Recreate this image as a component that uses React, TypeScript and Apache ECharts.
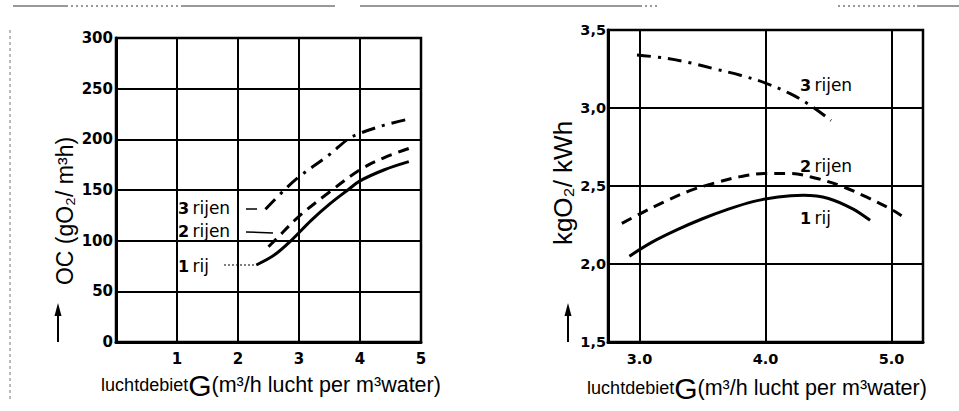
import React, { useEffect, useRef } from "react";
import * as echarts from "echarts";

// Left chart: OC (gO2/m3h) vs luchtdebiet G
const leftRij1: number[][] = [[2.3, 76], [2.6, 86], [2.87, 100], [3.2, 120], [3.5, 136], [3.8, 150], [4.0, 159], [4.4, 170], [4.8, 178]];
const leftRijen2: number[][] = [[2.5, 94], [2.6, 100], [3.0, 124], [3.5, 148], [4.0, 170], [4.4, 182], [4.8, 191]];
const leftRijen3: number[][] = [[2.45, 131], [2.76, 150], [3.0, 163], [3.5, 185], [3.8, 200], [4.0, 206], [4.4, 214], [4.8, 220]];

// Right chart: kgO2/kWh vs luchtdebiet G
const rightRij1: number[][] = [[2.92, 2.05], [3.1, 2.14], [3.3, 2.22], [3.5, 2.29], [3.7, 2.35], [3.9, 2.4], [4.1, 2.43], [4.3, 2.44], [4.5, 2.42], [4.7, 2.35], [4.83, 2.28]];
const rightRijen2: number[][] = [[2.86, 2.26], [3.0, 2.32], [3.2, 2.4], [3.4, 2.47], [3.6, 2.52], [3.8, 2.56], [4.0, 2.58], [4.2, 2.58], [4.4, 2.55], [4.6, 2.5], [4.8, 2.43], [5.0, 2.35], [5.08, 2.31]];
const rightRijen3: number[][] = [[2.98, 3.34], [3.2, 3.32], [3.4, 3.29], [3.6, 3.25], [3.8, 3.21], [4.0, 3.16], [4.2, 3.09], [4.35, 3.02], [4.52, 2.92]];

const rightXGridValues = [3, 4, 5];

const FONT = "'Liberation Sans', Arial, Helvetica, sans-serif";
const WIDE = "'DejaVu Sans', 'Liberation Sans', sans-serif";

const mkLine = (name: string, data: number[][], idx: number, dash: any) => ({
  type: "line",
  name,
  xAxisIndex: idx,
  yAxisIndex: idx,
  data,
  smooth: 0.35,
  symbol: "none",
  showSymbol: false,
  silent: true,
  lineStyle: { color: "#000", width: 3, type: dash },
  z: 5,
});

export default function App() {
  const ref = useRef<HTMLDivElement>(null);
  useEffect(() => {
    document.body.style.margin = "0";
    const chart = echarts.init(ref.current!, null, { renderer: "svg" });
    const axisLine = { show: true, lineStyle: { color: "#000", width: 3 } };
    const split = { show: true, lineStyle: { color: "#000", width: 2 } };
    const tickLabelL = { color: "#000", fontFamily: WIDE, fontWeight: "bold", fontSize: 15 };
    const tickLabelR = { color: "#000", fontFamily: WIDE, fontWeight: "bold", fontSize: 14.5 };
    const xName = (cx: number, cy: number) => ({
      type: "text",
      x: cx,
      y: cy,
      style: {
        text: "{a|luchtdebiet}{b|G}{c|(m³/h lucht per m³water)}",
        textAlign: "center",
        textVerticalAlign: "middle",
        fill: "#000",
        rich: {
          a: { fontSize: 18, fontFamily: FONT, fill: "#000", lineHeight: 30 },
          b: { fontSize: 30, fontFamily: FONT, fill: "#000", lineHeight: 30 },
          c: { fontSize: 21.5, fontFamily: FONT, fill: "#000", lineHeight: 30 },
        },
      },
    });
    const label = (x: number, y: number, num: string, rest: string) => ({
      type: "text",
      x,
      y,
      style: {
        text: `{n|${num}} {r|${rest}}`,
        textVerticalAlign: "middle",
        rich: {
          n: { fontSize: 16, fontWeight: "bold", fontFamily: WIDE, fill: "#000" },
          r: { fontSize: 17, fontFamily: WIDE, fill: "#000" },
        },
      },
    });
    const arrow = (x: number) => [
      { type: "line", shape: { x1: x, y1: 342, x2: x, y2: 312 }, style: { stroke: "#000", lineWidth: 2 } },
      { type: "polygon", shape: { points: [[x, 303], [x - 3.5, 316], [x + 3.5, 316]] }, style: { fill: "#000" } },
    ];
    const topSegs = [[13, 66, 0], [66, 183, 1], [183, 335, 0], [360, 640, 0], [640, 660, 1], [838, 917, 1], [917, 959, 0]];
    chart.setOption({
      animation: false,
      backgroundColor: "#fff",
      grid: [
        { left: 116, top: 38, width: 305, height: 304, show: true, borderColor: "#000", borderWidth: 2.5, containLabel: false },
        { left: 608, top: 30, width: 315, height: 312, show: true, borderColor: "#000", borderWidth: 2.5, containLabel: false },
      ],
      xAxis: [
        {
          type: "value", gridIndex: 0, min: 0, max: 5, interval: 1,
          axisLine, splitLine: split, axisTick: { show: false },
          axisLabel: { ...tickLabelL, margin: 9, formatter: (v: number) => (v === 0 ? "" : String(v)) },
        },
        {
          type: "value", gridIndex: 1, min: 2.75, max: 5.25, interval: 0.25,
          axisLine, splitLine: { show: false }, axisTick: { show: false },
          axisLabel: {
            ...tickLabelR, margin: 9, showMinLabel: true, showMaxLabel: true,
            formatter: (v: number) => (Math.abs(v - Math.round(v)) < 1e-6 ? v.toFixed(1) : ""),
          },
        },
      ],
      yAxis: [
        {
          type: "value", gridIndex: 0, min: 0, max: 300, interval: 50,
          axisLine, splitLine: split, axisTick: { show: false },
          axisLabel: { ...tickLabelL, margin: 3 },
        },
        {
          type: "value", gridIndex: 1, min: 1.5, max: 3.5, interval: 0.5,
          axisLine, splitLine: split, axisTick: { show: false },
          axisLabel: { ...tickLabelR, margin: 2, formatter: (v: number) => v.toFixed(1).replace(".", ",") },
        },
      ],
      series: [
        mkLine("1 rij", leftRij1, 0, "solid"),
        mkLine("2 rijen", leftRijen2, 0, [11, 7]),
        mkLine("3 rijen", leftRijen3, 0, [14, 7, 3, 7]),
        {
          ...mkLine("1 rij", rightRij1, 1, "solid"),
          markLine: {
            silent: true,
            symbol: ["none", "none"],
            label: { show: false },
            lineStyle: { color: "#000", width: 2, type: "solid" },
            data: rightXGridValues.map((v) => ({ xAxis: v })),
            z: 1,
          },
        },
        mkLine("2 rijen", rightRijen2, 1, [11, 7]),
        mkLine("3 rijen", rightRijen3, 1, [14, 7, 3, 7]),
      ],
      graphic: [
        ...topSegs.map((s) => ({
          type: "line",
          shape: { x1: s[0], y1: 6, x2: s[1], y2: 6 },
          style: { stroke: "#777", lineWidth: 1.5, lineDash: s[2] ? [2, 3] : null },
        })),
        { type: "line", shape: { x1: 10, y1: 30, x2: 10, y2: 400 }, style: { stroke: "#777", lineWidth: 1, lineDash: [3, 3] } },
        // y names
        {
          type: "text", x: 65, y: 211, rotation: Math.PI / 2,
          style: { text: "OC (gO₂/ m³h)", fontSize: 23, fontFamily: FONT, fill: "#000", textAlign: "center", textVerticalAlign: "middle" },
        },
        {
          type: "text", x: 563, y: 183, rotation: Math.PI / 2,
          style: { text: "kgO₂/ kWh", fontSize: 26, fontFamily: FONT, fill: "#000", textAlign: "center", textVerticalAlign: "middle" },
        },
        ...arrow(58),
        ...arrow(568),
        xName(271, 385),
        xName(757, 388),
        // left labels
        label(178, 208, "3", "rijen"),
        label(178, 231, "2", "rijen"),
        label(178, 266, "1", "rij"),
        { type: "line", shape: { x1: 246, y1: 209, x2: 257, y2: 209 }, style: { stroke: "#000", lineWidth: 1.5 } },
        { type: "line", shape: { x1: 246, y1: 232, x2: 273, y2: 233 }, style: { stroke: "#000", lineWidth: 1.5 } },
        { type: "line", shape: { x1: 224, y1: 265, x2: 255, y2: 265 }, style: { stroke: "#000", lineWidth: 1.2, lineDash: [2, 2] } },
        // right labels
        label(800, 85, "3", "rijen"),
        label(800, 166, "2", "rijen"),
        label(800, 218, "1", "rij"),
      ],
    });
    return () => chart.dispose();
  }, []);
  return <div ref={ref} style={{ width: 959, height: 411 }} />;
}
